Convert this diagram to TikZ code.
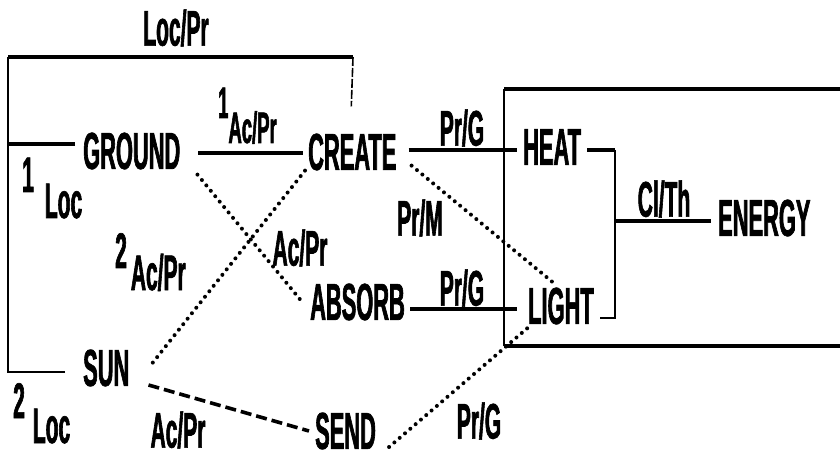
\documentclass[tikz,border=0pt]{standalone}
\usepackage{fontspec}
\newfontfamily\plotfont[FakeStretch=0.42,FakeBold=1.2]{Liberation Sans}
\usetikzlibrary{calc}
\begin{document}
\begin{tikzpicture}[x=1pt,y=-1pt,
  txt/.style={inner sep=0pt, anchor=west, font={\plotfont\bfseries\fontsize{52pt}{52pt}\selectfont}},
  lbl/.style={inner sep=0pt, font={\plotfont\bfseries\fontsize{50pt}{50pt}\selectfont}},
  slbl/.style={inner sep=0pt, font={\plotfont\bfseries\fontsize{44pt}{44pt}\selectfont}},
  solidln/.style={line width=3.4pt},
  thinln/.style={line width=2pt},
  dotln/.style={line width=4pt, line cap=round, dash pattern=on 0pt off 7pt},
  dashln/.style={line width=3.6pt, dash pattern=on 11pt off 5pt},
  dropln/.style={line width=1.6pt, dash pattern=on 9pt off 2pt}]
\fill[white] (0,0) rectangle (840,462);
\useasboundingbox (0,0) rectangle (840,462);
% nodes
\node[txt] (ground) at (83,151) {GROUND};
\node[txt] (create) at (308,152) {CREATE};
\node[txt] (heat) at (523,147) {HEAT};
\node[txt] (light) at (528,306) {LIGHT};
\node[txt] (energy) at (718,218) {ENERGY};
\node[txt] (absorb) at (310,302) {ABSORB};
\node[txt] (sun) at (83,368) {SUN};
\node[txt] (send) at (315,431) {SEND};
% coordinates
\coordinate (tl) at (8,57);
\coordinate (tr) at (353,57);
\coordinate (gl) at (8,144);
\coordinate (bt) at (615,150);
\coordinate (bm) at (615,221);
\coordinate (bb) at (615,318);
% box
\draw[solidln] (840,89) -- (504,89);
\draw[thinln] (504,89) -- (504,346);
\draw[solidln] (504,346) -- (840,346);
% left bracket
\draw[thinln] ($(sun.west)+(-18,4)$) -| (tl);
\draw[solidln] (tl) -- (tr);
\draw[dropln] (tr) -- ($(create.north)+(-1,-27)$);
\draw[solidln] ($(ground.west)+(-8,-7)$) -- (gl);
% solid connectors
\draw[solidln] ($(ground.east)+(18,2)$) -- ($(create.west)+(-5,1)$);
\draw[solidln] ($(create.east)+(12,-2)$) -- ($(heat.west)+(-6,3)$);
\draw[solidln] ($(heat.east)+(6,3)$) -- (bt);
\draw[thinln] (bt) -- (bb) -- ($(light.east)+(6,12)$);
\draw[solidln] (bm) -- ($(energy.west)+(-7,3)$);
\draw[solidln] ($(absorb.east)+(5,7)$) -- ($(light.west)+(-11,3)$);
% dotted connectors
\draw[dotln] ($(ground.south east)+(17,5)$) -- ($(absorb.west)+(-7,1)$);
\draw[dotln] ($(create.south west)+(-3,0)$) -- ($(sun.east)+(19,0)$);
\draw[dotln] ($(create.south east)+(15,-5)$) -- ($(light.north)+(-8,-5)$);
\draw[dotln] ($(send.east)+(13,16)$) -- ($(light.south west)+(0,3)$);
% dashed
\draw[dashln] ($(sun.east)+(19,17)$) -- ($(send.west)+(-6,0)$);
% labels
\node[lbl] (locpr) at (176,28) {Loc/Pr};
\node[slbl, anchor=base west] (l1acpr) at (218,143) {\raisebox{25pt}{1}Ac/Pr};
\node[lbl] (prg1) at (462,128) {Pr/G};
\node[lbl] (prm) at (420,218) {Pr/M};
\node[lbl] (acpr) at (300,248) {Ac/Pr};
\node[lbl, anchor=base west] (l2acpr) at (115,290) {\raisebox{22pt}{2}\hspace{4pt}Ac/Pr};
\node[lbl] (prg2) at (462,288) {Pr/G};
\node[lbl] (clth) at (664,199) {Cl/Th};
\node[lbl, anchor=base west] (l1loc) at (22,218) {\raisebox{26pt}{1}\hspace{11pt}Loc};
\node[lbl, anchor=base west] (l2loc) at (13,443) {\raisebox{25pt}{2}\hspace{8pt}Loc};
\node[lbl] (acpr3) at (178,430) {Ac/Pr};
\node[lbl] (prg3) at (479,421) {Pr/G};
\end{tikzpicture}
\end{document}
